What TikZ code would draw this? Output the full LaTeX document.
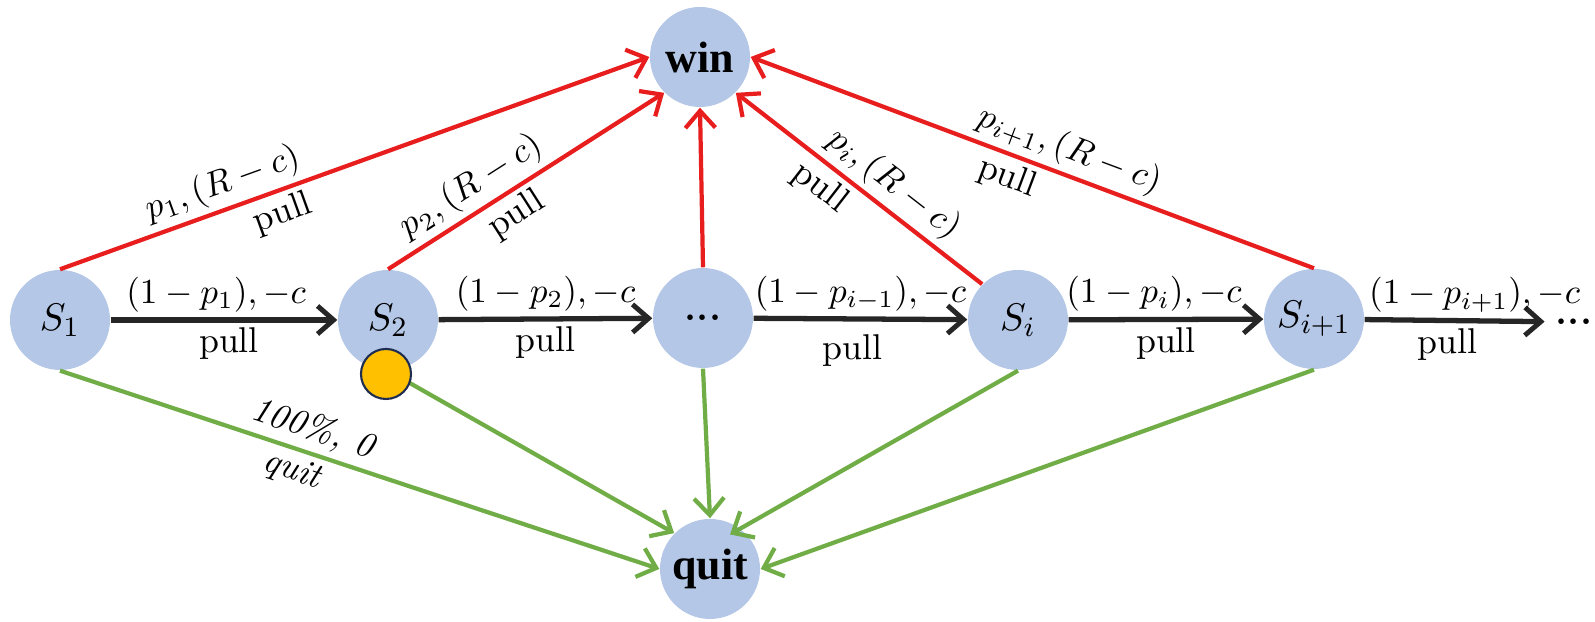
\documentclass[tikz,border=0pt]{standalone}
\usepackage{fontspec}
\newfontfamily\boldserif{Liberation Serif}
\usetikzlibrary{arrows.meta}
\definecolor{stateblue}{RGB}{180,199,231}
\definecolor{winred}{RGB}{232,30,30}
\definecolor{quitgreen}{RGB}{112,173,71}
\definecolor{tokenyellow}{RGB}{255,192,0}
\definecolor{tokenedge}{RGB}{31,45,80}

\begin{document}
\begin{tikzpicture}[
  font=\fontsize{11}{13}\selectfont,
  state/.style={circle,fill=stateblue,minimum size=1cm,inner sep=0pt},
  pullarrow/.style={-{Straight Barb[length=1.6mm,width=2.8mm,line width=1.4pt]},line width=1.5pt,black!85},
  winarrow/.style={-{Straight Barb[length=1.7mm,width=3mm]},line width=1.2pt,winred},
  quitarrow/.style={-{Straight Barb[length=1.7mm,width=3mm]},line width=1.2pt,quitgreen},
  lbl/.style={inner sep=1.5pt,text=black,font=\fontsize{10.2}{12}\selectfont}
]
  \useasboundingbox (0,0) rectangle (15.95,6.22);

  % States
  \node[state] (s1) at (0.60,3.02) {$S_1$};
  \node[state] (s2) at (3.88,3.02) {$S_2$};
  \node[state] (sdots) at (7.03,3.04) {\textbf{...}};
  \node[state] (si) at (10.18,3.02) {$S_i$};
  \node[state] (snext) at (13.14,3.03) {$S_{i+1}$};
  \node[inner sep=3pt] (more) at (15.74,3.00) {\textbf{...}};

  % Absorbing states
  \node[state,font=\boldserif\fontsize{12.5}{14}\selectfont\bfseries] (win) at (7.00,5.65) {win};
  \node[state,font=\boldserif\fontsize{12.5}{14}\selectfont\bfseries] (quit) at (7.10,0.53) {quit};

  % Pull and fail
  \draw[pullarrow] (s1) -- (s2)
    node[lbl,midway,above,xshift=-0.08cm] {$(1-p_1), -c$}
    node[lbl,midway,below,xshift=0.05cm] {pull};
  \draw[pullarrow] (s2) -- (sdots)
    node[lbl,midway,above] {$(1-p_2), -c$}
    node[lbl,midway,below] {pull};
  \draw[pullarrow] (sdots) -- (si)
    node[lbl,midway,above] {$(1-p_{i-1}), -c$}
    node[lbl,midway,below,xshift=-0.08cm,yshift=-0.08cm] {pull};
  \draw[pullarrow] (si) -- (snext)
    node[lbl,midway,above,xshift=-0.12cm] {$(1-p_i), -c$}
    node[lbl,midway,below] {pull};
  \draw[pullarrow] (snext) -- (more)
    node[lbl,midway,above,xshift=0.2cm] {$(1-p_{i+1}), -c$}
    node[lbl,midway,below,xshift=-0.07cm] {pull};

  % Pull and win
  \draw[winarrow] (s1.north) -- (win.west)
    node[lbl,pos=0.29,sloped,above] {$p_1, (R-c)$}
    node[lbl,pos=0.365,sloped,below] {pull};
  \draw[winarrow] (s2.north) -- (win.south west)
    node[lbl,pos=0.35,sloped,above] {$p_2, (R-c)$}
    node[lbl,pos=0.42,sloped,below] {pull};
  \draw[winarrow] (sdots.north) -- (win.south);
  \draw[winarrow] (si.north west) -- (win.south east)
    node[lbl,pos=0.42,sloped,above] {$p_i, (R-c)$}
    node[lbl,pos=0.6,sloped,below] {pull};
  \draw[winarrow] (snext.north) -- (win.east)
    node[lbl,pos=0.45,sloped,above] {$p_{i+1}, (R-c)$}
    node[lbl,pos=0.53,sloped,below] {pull};

  % Quit
  \draw[quitarrow] (s1.south) -- (quit.west)
    node[lbl,pos=0.41,sloped,above] {\textit{100\%, 0}}
    node[lbl,pos=0.40,sloped,below] {\textit{quit}};
  \draw[quitarrow] (s2.south) -- (quit.north west);
  \draw[quitarrow] (sdots.south) -- (quit.north);
  \draw[quitarrow,shorten >=-1.2mm] (si.south) -- (quit.53);
  \draw[quitarrow] (snext.south) -- (quit.east);

  % Current position
  \node[circle,fill=tokenyellow,draw=tokenedge,line width=0.6pt,minimum size=0.5cm,inner sep=0pt] (token) at (3.86,2.48) {};
\end{tikzpicture}
\end{document}
